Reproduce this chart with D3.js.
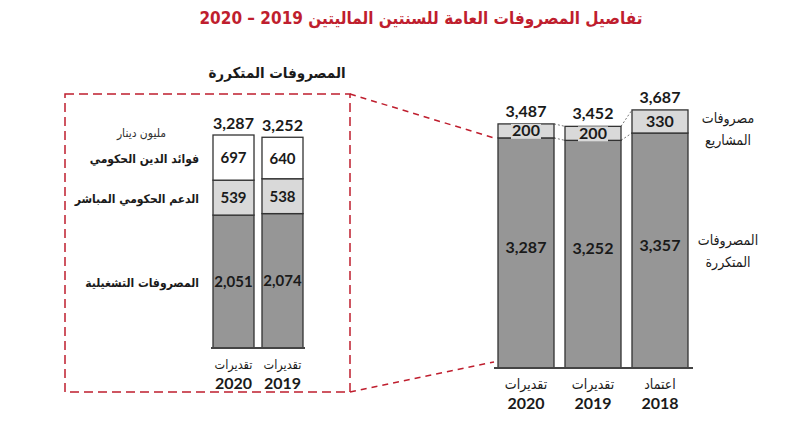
<!DOCTYPE html>
<html>
<head>
<meta charset="utf-8">
<script src="https://cdn.jsdelivr.net/npm/d3@7"></script>
<style>
  body { margin: 0; background: #fff; }
  text { font-family: "DejaVu Sans Condensed", "DejaVu Sans", sans-serif; fill: #1a1a1a; }
  .num { font-family: Lato, "Open Sans", sans-serif; font-weight: bold; }
</style>
</head>
<body>
<script>
// main chart: total expenditure per year
var mainCats = ["2020", "2019", "2018"];
var mainKinds = ["تقديرات", "تقديرات", "اعتماد"];
var recurring = [3287, 3252, 3357];
var projects = [200, 200, 330];

// detail chart: breakdown of recurring expenditure
var detailCats = ["2020", "2019"];
var detailKinds = ["تقديرات", "تقديرات"];
var operating = [2051, 2074];
var subsidy = [539, 538];
var interest = [697, 640];

var w = 800, h = 447;
var fmt = d3.format(",");
var dark = "#969696", light = "#d9d9d9", red = "#bf1e2e";

var svg = d3.select("body").append("svg")
    .attr("width", w)
    .attr("height", h);

// title
svg.append("text")
    .attr("x", 421).attr("y", 24)
    .attr("direction", "rtl")
    .attr("text-anchor", "middle")
    .style("font-size", "17px")
    .style("font-weight", "bold")
    .style("fill", red)
    .text("تفاصيل المصروفات العامة للسنتين الماليتين 2019 – 2020");

// ---------- right chart ----------
var x = d3.scaleBand().domain(mainCats).range([498, 688]).paddingInner(0.164);
var y = d3.scaleLinear().domain([0, 3700]).range([368, 368 - 3700 * 0.07]);

var main = mainCats.map(function (c, i) {
    return {cat: c, kind: mainKinds[i], rec: recurring[i], proj: projects[i], total: recurring[i] + projects[i]};
});

// connector dashes between bars
for (var i = 0; i < main.length - 1; i++) {
    [main[i].total, main[i].rec].forEach(function (v, k) {
        var v2 = k == 0 ? main[i + 1].total : main[i + 1].rec;
        svg.append("line")
            .attr("x1", x(main[i].cat) + x.bandwidth()).attr("y1", y(v))
            .attr("x2", x(main[i + 1].cat)).attr("y2", y(v2))
            .attr("stroke", "#555").attr("stroke-width", 0.8)
            .attr("stroke-dasharray", "2,2");
    });
}

var g = svg.append("g");
g.selectAll(".rec").data(main).enter().append("rect")
    .attr("x", function (d) { return x(d.cat); })
    .attr("y", function (d) { return y(d.rec); })
    .attr("width", x.bandwidth())
    .attr("height", function (d) { return y(0) - y(d.rec); })
    .attr("fill", dark).attr("stroke", "#333").attr("stroke-width", 1.3);

g.selectAll(".proj").data(main).enter().append("rect")
    .attr("x", function (d) { return x(d.cat); })
    .attr("y", function (d) { return y(d.total); })
    .attr("width", x.bandwidth())
    .attr("height", function (d) { return y(d.rec) - y(d.total); })
    .attr("fill", light).attr("stroke", "#333").attr("stroke-width", 1.3);

// label boxes for project values
main.forEach(function (d) {
    var cx = x(d.cat) + x.bandwidth() / 2, cy = (y(d.rec) + y(d.total)) / 2;
    if (d.proj == 200) {
        g.append("rect").attr("x", cx - 15).attr("y", cy - 7).attr("width", 30).attr("height", 15)
            .attr("fill", light);
    }
    g.append("text").attr("class", "num")
        .attr("x", cx).attr("y", cy + 5.5)
        .attr("text-anchor", "middle").style("font-size", "16px")
        .text(fmt(d.proj));
    g.append("text").attr("class", "num")
        .attr("x", cx).attr("y", (y(0) + y(d.rec)) / 2)
        .attr("text-anchor", "middle").style("font-size", "16px")
        .text(fmt(d.rec));
    g.append("text").attr("class", "num")
        .attr("x", cx).attr("y", y(d.total) - 7)
        .attr("text-anchor", "middle").style("font-size", "16px")
        .text(fmt(d.total));
    g.append("text")
        .attr("x", cx).attr("y", 389)
        .attr("text-anchor", "middle").style("font-size", "14px")
        .text(d.kind);
    g.append("text").attr("class", "num")
        .attr("x", cx).attr("y", 409)
        .attr("text-anchor", "middle").style("font-size", "16px")
        .text(d.cat);
});

g.append("line")
    .attr("x1", 494).attr("x2", 693).attr("y1", y(0)).attr("y2", y(0))
    .attr("stroke", "#444").attr("stroke-width", 2);

[["مصروفات", 123], ["المشاريع", 145], ["المصروفات", 245], ["المتكررة", 267]].forEach(function (t) {
    svg.append("text").attr("x", 728).attr("y", t[1])
        .attr("text-anchor", "middle").style("font-size", "14px")
        .text(t[0]);
});

// ---------- left (detail) chart ----------
var x2 = d3.scaleBand().domain(detailCats).range([213, 303]).paddingInner(0.163);
var y2 = d3.scaleLinear().domain([0, 3300]).range([348, 348 - 3300 * 0.0648]);

var detail = detailCats.map(function (c, i) {
    return {cat: c, kind: detailKinds[i], op: operating[i], sub: subsidy[i], int: interest[i],
        total: operating[i] + subsidy[i] + interest[i]};
});

var lg = svg.append("g");
detail.forEach(function (d) {
    var bx = x2(d.cat), bw = x2.bandwidth(), cx = bx + bw / 2;
    var segs = [[0, d.op, dark], [d.op, d.op + d.sub, light], [d.op + d.sub, d.total, "#fff"]];
    segs.forEach(function (s) {
        lg.append("rect")
            .attr("x", bx).attr("y", y2(s[1]))
            .attr("width", bw).attr("height", y2(s[0]) - y2(s[1]))
            .attr("fill", s[2]).attr("stroke", "#333").attr("stroke-width", 1.3);
        lg.append("text").attr("class", "num")
            .attr("x", cx).attr("y", (y2(s[0]) + y2(s[1])) / 2 + 5.5)
            .attr("text-anchor", "middle").style("font-size", "15px")
            .text(fmt(s[1] - s[0]));
    });
    lg.append("text").attr("class", "num")
        .attr("x", cx).attr("y", y2(d.total) - 6)
        .attr("text-anchor", "middle").style("font-size", "16px")
        .text(fmt(d.total));
    lg.append("text")
        .attr("x", cx).attr("y", 369)
        .attr("text-anchor", "middle").style("font-size", "12.5px")
        .text(d.kind);
    lg.append("text").attr("class", "num")
        .attr("x", cx).attr("y", 389)
        .attr("text-anchor", "middle").style("font-size", "16px")
        .text(d.cat);
});

lg.append("line")
    .attr("x1", 211).attr("x2", 305).attr("y1", y2(0)).attr("y2", y2(0))
    .attr("stroke", "#444").attr("stroke-width", 2);

var d0 = detail[0];
[["فوائد الدين الحكومي", (y2(d0.op + d0.sub) + y2(d0.total)) / 2],
 ["الدعم الحكومي المباشر", (y2(d0.op) + y2(d0.op + d0.sub)) / 2],
 ["المصروفات التشغيلية", (y2(0) + y2(d0.op)) / 2]].forEach(function (t) {
    lg.append("text").attr("x", 199).attr("y", t[1] + 5)
        .attr("text-anchor", "end").style("font-size", "12px").style("font-weight", "bold")
        .text(t[0]);
});
lg.append("text").attr("x", 166).attr("y", 137)
    .attr("text-anchor", "end").style("font-size", "12px").style("fill", "#333")
    .text("مليون دينار");

svg.append("text").attr("x", 277).attr("y", 78)
    .attr("text-anchor", "middle").style("font-size", "15px").style("font-weight", "bold")
    .text("المصروفات المتكررة");

// zoom frame
svg.append("rect")
    .attr("x", 65).attr("y", 94).attr("width", 285).attr("height", 298)
    .attr("fill", "none").attr("stroke", red).attr("stroke-width", 1.5)
    .attr("stroke-dasharray", "9,5");
[[350, 94, y(main[0].rec)], [350, 392, y(0) - 6]].forEach(function (p) {
    svg.append("line")
        .attr("x1", p[0]).attr("y1", p[1])
        .attr("x2", x(main[0].cat) - 4).attr("y2", p[2])
        .attr("stroke", red).attr("stroke-width", 1.5)
        .attr("stroke-dasharray", "6,5");
});
</script>
</body>
</html>
